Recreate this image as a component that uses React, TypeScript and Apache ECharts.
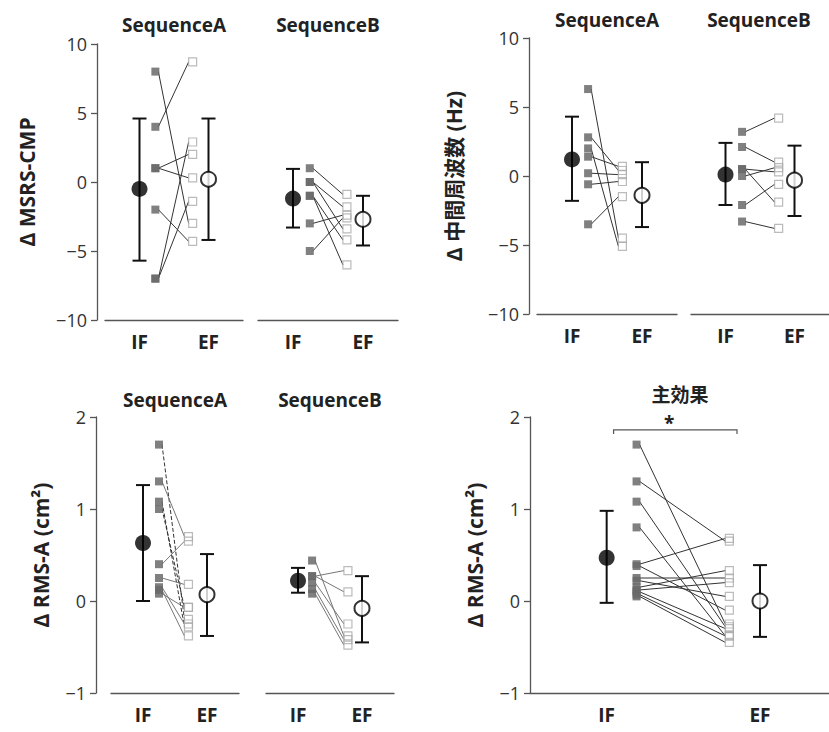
import React, { useEffect, useRef } from 'react';
import * as echarts from 'echarts';

const FONT = '"Open Sans", "Noto Sans CJK JP", sans-serif';

// ---------- categories / titles ----------
const xCategories = ['IF', 'EF'];
const panelTitles = ['SequenceA', 'SequenceB', 'SequenceA', 'SequenceB', 'SequenceA', 'SequenceB', '主効果'];
const yNames = ['Δ MSRS-CMP', 'Δ 中間周波数 (Hz)', 'Δ RMS-A (cm²)', 'Δ RMS-A (cm²)'];

// ---------- Panel 1: Δ MSRS-CMP ----------
const msrsA_IF = [8, 4, 1, 1, -2, -7, -7];
const msrsA_EF = [-3, 8.7, 0.3, 2.0, -4.3, 2.9, -1.4];
const msrsA_mean = [-0.5, 0.2];
const msrsA_lo = [-5.7, -4.2];
const msrsA_hi = [4.6, 4.6];

const msrsB_IF = [1, 0, 0, -1, -1, -3, -5];
const msrsB_EF = [-0.9, -1.8, -3.4, -4.2, -6.0, -2.4, -2.6];
const msrsB_mean = [-1.2, -2.7];
const msrsB_lo = [-3.3, -4.6];
const msrsB_hi = [0.95, -1.0];

// ---------- Panel 2: Δ 中間周波数 ----------
const freqA_IF = [6.3, 2.8, 2.0, 1.4, 0.2, -0.6, -3.5];
const freqA_EF = [-4.5, 0.4, -5.1, 0.7, 0.1, -0.4, -1.5];
const freqA_mean = [1.2, -1.4];
const freqA_lo = [-1.8, -3.7];
const freqA_hi = [4.3, 1.0];

const freqB_IF = [3.2, 2.1, 0.5, 0.5, 0.0, -2.1, -3.3];
const freqB_EF = [4.2, 1.0, 0.3, -1.9, 0.6, -0.6, -3.8];
const freqB_mean = [0.1, -0.3];
const freqB_lo = [-2.1, -2.9];
const freqB_hi = [2.4, 2.2];

// ---------- Panel 3: Δ RMS-A by sequence ----------
const rmsA_IF = [1.7, 1.3, 1.08, 1.0, 0.4, 0.25, 0.15, 0.12, 0.08];
const rmsA_EF = [-0.2, 0.7, -0.28, -0.07, 0.65, 0.18, -0.25, -0.38, -0.07];
const rmsA_dashed = [true, false, true, true, false, false, false, false, false];
const rmsA_mean = [0.63, 0.07];
const rmsA_lo = [0.0, -0.38];
const rmsA_hi = [1.26, 0.51];

const rmsB_IF = [0.44, 0.27, 0.27, 0.2, 0.13, 0.08];
const rmsB_EF = [-0.38, 0.33, 0.1, -0.25, -0.42, -0.48];
const rmsB_mean = [0.22, -0.08];
const rmsB_lo = [0.09, -0.45];
const rmsB_hi = [0.36, 0.27];

// ---------- Panel 4: 主効果 ----------
const main_IF = [1.7, 1.3, 1.08, 0.8, 0.4, 0.38, 0.25, 0.22, 0.15, 0.12, 0.1, 0.07, 0.05];
const main_EF = [-0.25, 0.65, -0.28, -0.38, 0.68, -0.1, 0.25, 0.05, 0.33, 0.2, -0.3, -0.38, -0.45];
const main_mean = [0.47, 0.0];
const main_lo = [-0.02, -0.39];
const main_hi = [0.98, 0.39];
const main_sigLabel = '*';

type Panel = {
  grid: { left: number; top: number; width: number; height: number };
  xMax: number;
  yMin: number; yMax: number; yInterval: number;
  yShow: boolean; yOffset: number; yName: string; nameGap: number;
  ifVals: number[]; efVals: number[]; dashed?: boolean[];
  mean: number[]; lo: number[]; hi: number[];
  xi: number; xe: number;
  title: string; titleY: number;
};

const panels: Panel[] = [
  { grid: { left: 105, top: 44, width: 138, height: 276 }, xMax: 1.5, yMin: -10, yMax: 10, yInterval: 5, yShow: true, yOffset: 8, yName: yNames[0], nameGap: 60,
    ifVals: msrsA_IF, efVals: msrsA_EF, mean: msrsA_mean, lo: msrsA_lo, hi: msrsA_hi, xi: 0.23, xe: 0.77, title: panelTitles[0], titleY: 25 },
  { grid: { left: 258, top: 44, width: 140, height: 276 }, xMax: 1.5, yMin: -10, yMax: 10, yInterval: 5, yShow: false, yOffset: 0, yName: '', nameGap: 0,
    ifVals: msrsB_IF, efVals: msrsB_EF, mean: msrsB_mean, lo: msrsB_lo, hi: msrsB_hi, xi: 0.24, xe: 0.77, title: panelTitles[1], titleY: 25 },
  { grid: { left: 537, top: 38, width: 140, height: 276 }, xMax: 1.5, yMin: -10, yMax: 10, yInterval: 5, yShow: true, yOffset: 8, yName: yNames[1], nameGap: 65,
    ifVals: freqA_IF, efVals: freqA_EF, mean: freqA_mean, lo: freqA_lo, hi: freqA_hi, xi: 0.23, xe: 0.72, title: panelTitles[2], titleY: 20 },
  { grid: { left: 691, top: 38, width: 140, height: 276 }, xMax: 1.5, yMin: -10, yMax: 10, yInterval: 5, yShow: false, yOffset: 0, yName: '', nameGap: 0,
    ifVals: freqB_IF, efVals: freqB_EF, mean: freqB_mean, lo: freqB_lo, hi: freqB_hi, xi: 0.24, xe: 0.77, title: panelTitles[3], titleY: 20 },
  { grid: { left: 111, top: 417, width: 128, height: 276 }, xMax: 1.5, yMin: -1, yMax: 2, yInterval: 1, yShow: true, yOffset: 15, yName: yNames[2], nameGap: 45,
    ifVals: rmsA_IF, efVals: rmsA_EF, dashed: rmsA_dashed, mean: rmsA_mean, lo: rmsA_lo, hi: rmsA_hi, xi: 0.25, xe: 0.71, title: panelTitles[4], titleY: 400 },
  { grid: { left: 266, top: 417, width: 128, height: 276 }, xMax: 1.5, yMin: -1, yMax: 2, yInterval: 1, yShow: false, yOffset: 0, yName: '', nameGap: 0,
    ifVals: rmsB_IF, efVals: rmsB_EF, mean: rmsB_mean, lo: rmsB_lo, hi: rmsB_hi, xi: 0.22, xe: 0.78, title: panelTitles[5], titleY: 400 },
  { grid: { left: 530, top: 417, width: 300, height: 276 }, xMax: 1.45, yMin: -1, yMax: 2, yInterval: 1, yShow: true, yOffset: 0, yName: yNames[3], nameGap: 45,
    ifVals: main_IF, efVals: main_EF, mean: main_mean, lo: main_lo, hi: main_hi, xi: 0.195, xe: 0.8, title: panelTitles[6], titleY: 395 },
];

const AXIS_COLOR = '#555';

function fmtTick(v: number) {
  return v < 0 ? '−' + Math.abs(v) : String(v);
}

function buildOption() {
  const grid: any[] = [];
  const xAxis: any[] = [];
  const yAxis: any[] = [];
  const series: any[] = [];
  const graphic: any[] = [];

  panels.forEach((p, i) => {
    grid.push({ ...p.grid, containLabel: false });
    xAxis.push({
      gridIndex: i, type: 'value', min: -0.5, max: p.xMax,
      axisLine: { show: true, onZero: false, lineStyle: { color: AXIS_COLOR, width: 1.3 } },
      axisTick: { show: false }, splitLine: { show: false },
      axisLabel: {
        customValues: [0, 1],
        formatter: (v: number) => xCategories[Math.round(v)] ?? '',
        fontFamily: FONT, fontSize: 19, fontWeight: 'bold', color: '#222', margin: 12,
      },
    });
    yAxis.push({
      gridIndex: i, type: 'value', min: p.yMin, max: p.yMax, interval: p.yInterval,
      show: p.yShow, offset: p.yOffset,
      axisLine: { show: true, onZero: false, lineStyle: { color: AXIS_COLOR, width: 1.3 } },
      axisTick: { show: true, length: 6, lineStyle: { color: AXIS_COLOR, width: 1.3 } },
      splitLine: { show: false },
      axisLabel: { formatter: fmtTick, fontFamily: FONT, fontSize: 18, color: '#333', margin: 10 },
      name: p.yName, nameLocation: 'middle', nameGap: p.nameGap,
      nameTextStyle: { fontFamily: FONT, fontSize: 21, fontWeight: 'bold', color: '#222' },
    });

    // paired lines
    const dashed = p.dashed || [];
    series.push({
      type: 'custom', xAxisIndex: i, yAxisIndex: i, silent: true, z: 1,
      data: p.ifVals.map((v, k) => [p.xi, v, p.xe, p.efVals[k], dashed[k] ? 1 : 0]),
      encode: { x: [0, 2], y: [1, 3] },
      renderItem: (_params: any, api: any) => {
        const a = api.coord([api.value(0), api.value(1)]);
        const b = api.coord([api.value(2), api.value(3)]);
        const isDash = api.value(4) === 1;
        return {
          type: 'line',
          shape: { x1: a[0] + 3, y1: a[1], x2: b[0] - 4, y2: b[1] },
          style: { stroke: isDash ? '#333' : (i >= 4 && i <= 5 ? '#777' : '#333'), lineWidth: 1, lineDash: isDash ? [4, 2] : null },
        };
      },
    });
    // EF individual squares
    series.push({
      type: 'scatter', xAxisIndex: i, yAxisIndex: i, silent: true, z: 2,
      symbol: 'rect', symbolSize: 8,
      itemStyle: { color: 'rgba(255,255,255,0)', borderColor: '#aaa', borderWidth: 1.2 },
      data: p.efVals.map((v) => [p.xe, v]),
    });
    // IF individual squares
    series.push({
      type: 'scatter', xAxisIndex: i, yAxisIndex: i, silent: true, z: 3,
      symbol: 'rect', symbolSize: 8,
      itemStyle: { color: '#6a6a6a', opacity: 0.85 },
      data: p.ifVals.map((v) => [p.xi, v]),
    });
    // error bars
    series.push({
      type: 'custom', xAxisIndex: i, yAxisIndex: i, silent: true, z: 4,
      data: [0, 1].map((k) => [k, p.lo[k], p.hi[k]]),
      encode: { x: 0, y: [1, 2] },
      renderItem: (_params: any, api: any) => {
        const x = api.value(0);
        const lo = api.coord([x, api.value(1)]);
        const hi = api.coord([x, api.value(2)]);
        const cap = 7;
        const st = { stroke: '#111', lineWidth: 2 };
        return {
          type: 'group',
          children: [
            { type: 'line', shape: { x1: lo[0], y1: lo[1], x2: hi[0], y2: hi[1] }, style: st },
            { type: 'line', shape: { x1: lo[0] - cap, y1: lo[1], x2: lo[0] + cap, y2: lo[1] }, style: st },
            { type: 'line', shape: { x1: hi[0] - cap, y1: hi[1], x2: hi[0] + cap, y2: hi[1] }, style: st },
          ],
        };
      },
    });
    // means
    series.push({
      type: 'scatter', xAxisIndex: i, yAxisIndex: i, silent: true, z: 5,
      symbol: 'circle', symbolSize: 16,
      itemStyle: { color: '#000' },
      data: [[0, p.mean[0]]],
    });
    series.push({
      type: 'scatter', xAxisIndex: i, yAxisIndex: i, silent: true, z: 5,
      symbol: 'circle', symbolSize: 15,
      itemStyle: { color: '#fff', borderColor: '#000', borderWidth: 2 },
      data: [[1, p.mean[1]]],
    });

    graphic.push({
      type: 'text', x: p.grid.left + p.grid.width / 2 - (i === 3 ? 2 : 0), y: p.titleY, silent: true,
      style: { text: p.title, align: 'center', verticalAlign: 'middle', font: `bold 19px ${FONT}`, fill: '#222' },
    });
  });

  // significance bracket in main-effect panel
  series.push({
    type: 'custom', xAxisIndex: 6, yAxisIndex: 6, silent: true, z: 6,
    data: [[0.045, 0.85, 1.86]],
    encode: { x: [0, 1], y: 2 },
    renderItem: (_params: any, api: any) => {
      const a = api.coord([api.value(0), api.value(2)]);
      const b = api.coord([api.value(1), api.value(2)]);
      return {
        type: 'group',
        children: [
          { type: 'polyline', shape: { points: [[a[0], a[1] + 4], [a[0], a[1]], [b[0], b[1]], [b[0], b[1] + 4]] }, style: { stroke: '#555', lineWidth: 1.2, fill: null } },
          { type: 'text', x: (a[0] + b[0]) / 2 - 6, y: a[1] - 7, style: { text: main_sigLabel, align: 'center', verticalAlign: 'middle', font: `bold 19px ${FONT}`, fill: '#222' } },
        ],
      };
    },
  });

  return { animation: false, backgroundColor: '#fff', grid, xAxis, yAxis, series, graphic };
}

export default function App() {
  const ref = useRef<HTMLDivElement>(null);
  useEffect(() => {
    if (!ref.current) return;
    const chart = echarts.init(ref.current, undefined, { renderer: 'svg' });
    chart.setOption(buildOption() as any);
    return () => chart.dispose();
  }, []);
  return <div ref={ref} style={{ position: 'fixed', left: 0, top: 0, width: 829, height: 732, background: '#fff' }} />;
}
